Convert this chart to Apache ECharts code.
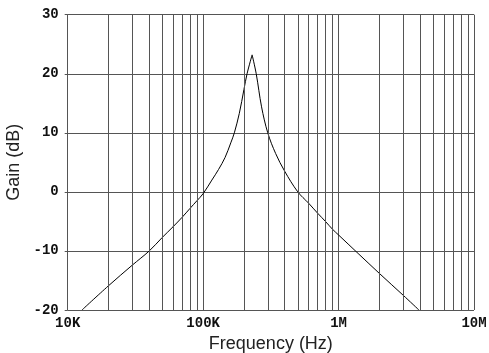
<!DOCTYPE html>
<html>
<head>
<meta charset="utf-8">
<script src="https://cdn.jsdelivr.net/npm/echarts@6/dist/echarts.min.js"></script>
<style>html,body{margin:0;padding:0;background:#fff}#c{width:489px;height:353px}</style>
</head>
<body>
<div id="c"></div>
<script>
// Rising branch (below resonance) and falling branch (above resonance); both include the peak.
var risingFreqHz = [12750, 20000, 30000, 40000, 50000, 60000, 70000, 80000, 90000, 100000, 116000, 130000, 145000, 160000, 170000, 185000, 200000, 211000, 230000];
var risingGainDb = [-20, -15.9, -12.4, -10, -7.7, -5.9, -4.3, -2.8, -1.5, -0.3, 2, 3.8, 5.8, 8.3, 10, 13.3, 17.3, 20, 23.2];
var fallingFreqHz = [230000, 246600, 270000, 300000, 343000, 400000, 500000, 600000, 700000, 800000, 900000, 1000000, 2000000, 3000000, 3920000];
var fallingGainDb = [23.2, 20, 14.4, 10, 6.5, 3.5, 0, -1.9, -3.6, -5.0, -6.3, -7.3, -13.8, -17.5, -20];
var xTickLabels = {10000: '10K', 100000: '100K', 1000000: '1M', 10000000: '10M'};
var minorGridFreqs = [];
[10000, 100000, 1000000].forEach(function (d) { for (var k = 2; k <= 9; k++) minorGridFreqs.push(d * k); });

var gridColor = '#555';
function pairs(xs, ys) { return xs.map(function (x, i) { return [x, ys[i]]; }); }
var chart = echarts.init(document.getElementById('c'));
chart.setOption({
  animation: false,
  grid: {left: 67.7, right: 15, top: 14.7, bottom: 43, containLabel: false, outerBoundsMode: 'none'},
  xAxis: {
    type: 'log', logBase: 10, min: 10000, max: 10000000,
    name: 'Frequency (Hz)', nameLocation: 'middle', nameGap: 23,
    nameTextStyle: {fontFamily: 'Liberation Sans', fontSize: 18, color: '#222'},
    axisLine: {show: true, lineStyle: {color: gridColor, width: 1}},
    axisTick: {show: false},
    axisLabel: {fontFamily: 'Liberation Mono', fontWeight: 'bold', fontSize: 14, color: '#111', margin: 6,
      formatter: function (v) { return xTickLabels[Math.round(v)] || ''; }},
    splitLine: {show: true, lineStyle: {color: gridColor, width: 1}}
  },
  yAxis: {
    type: 'value', min: -20, max: 30, interval: 10,
    name: 'Gain (dB)', nameLocation: 'middle', nameGap: 37,
    nameTextStyle: {fontFamily: 'Liberation Sans', fontSize: 18, color: '#222'},
    axisLine: {show: true, lineStyle: {color: gridColor, width: 1}},
    axisTick: {show: true, inside: false, length: 3, lineStyle: {color: gridColor}},
    axisLabel: {fontFamily: 'Liberation Mono', fontWeight: 'bold', fontSize: 14, color: '#111', margin: 9},
    splitLine: {show: true, lineStyle: {color: gridColor, width: 1}}
  },
  series: [{
    type: 'line',
    data: pairs(risingFreqHz, risingGainDb),
    showSymbol: false, smooth: 0.35,
    lineStyle: {color: '#000', width: 1},
    markLine: {
      silent: true, symbol: ['none', 'none'], label: {show: false},
      lineStyle: {color: gridColor, width: 1, type: 'solid'},
      data: minorGridFreqs.map(function (f) { return {xAxis: f}; })
    }
  }, {
    type: 'line',
    data: pairs(fallingFreqHz, fallingGainDb),
    showSymbol: false, smooth: 0.35,
    lineStyle: {color: '#000', width: 1}
  }]
});
</script>
</body>
</html>
